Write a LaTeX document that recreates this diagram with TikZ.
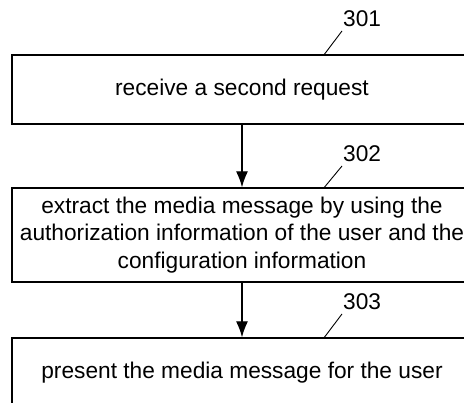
\documentclass[tikz,border=0pt]{standalone}
\usepackage{fontspec}
\setmainfont{Liberation Sans}
\usetikzlibrary{arrows.meta}
\begin{document}
\begin{tikzpicture}[x=1pt,y=-1pt,
  stepbox/.style={draw=black,line width=1.3pt,rectangle,inner sep=0pt,
    minimum width=460pt,minimum height=69pt,align=center,
    font=\fontsize{22.7}{27.5}\selectfont},
  reflabel/.style={inner sep=0pt,anchor=base west,font=\fontsize{22.7}{27.5}\selectfont},
  leader/.style={draw=black,line width=0.9pt},
  flow/.style={draw=black,line width=1.3pt,-{Latex[length=16pt,width=12pt]}}]
\useasboundingbox (0,0) rectangle (464,403);
\clip (0,0) rectangle (464,403);
\fill[white] (0,0) rectangle (464,403);

% process steps
\node[stepbox] (b1) at (242,89.5) {receive a second request};
\node[stepbox,minimum height=94pt] (b2) at (242,235)
  {extract the media message by using the\\authorization information of the user and the\\configuration information};
\node[stepbox] (b3) at (242,372.5) {present the media message for the user};

% reference numerals
\node[reflabel] (n301) at (343,27) {301};
\node[reflabel] (n302) at (343,162) {302};
\node[reflabel] (n303) at (343,310) {303};

\draw[leader] ([xshift=313pt]b1.north west) -- ([shift={(-1pt,-4pt)}]n301.base west);
\draw[leader] ([xshift=313pt]b2.north west) -- ([shift={(-1pt,-4pt)}]n302.base west);
\draw[leader] ([xshift=313pt]b3.north west) -- ([shift={(-1pt,-4pt)}]n303.base west);

% flow
\draw[flow] (b1.south) -- (b2.north);
\draw[flow] (b2.south) -- (b3.north);
\end{tikzpicture}
\end{document}
